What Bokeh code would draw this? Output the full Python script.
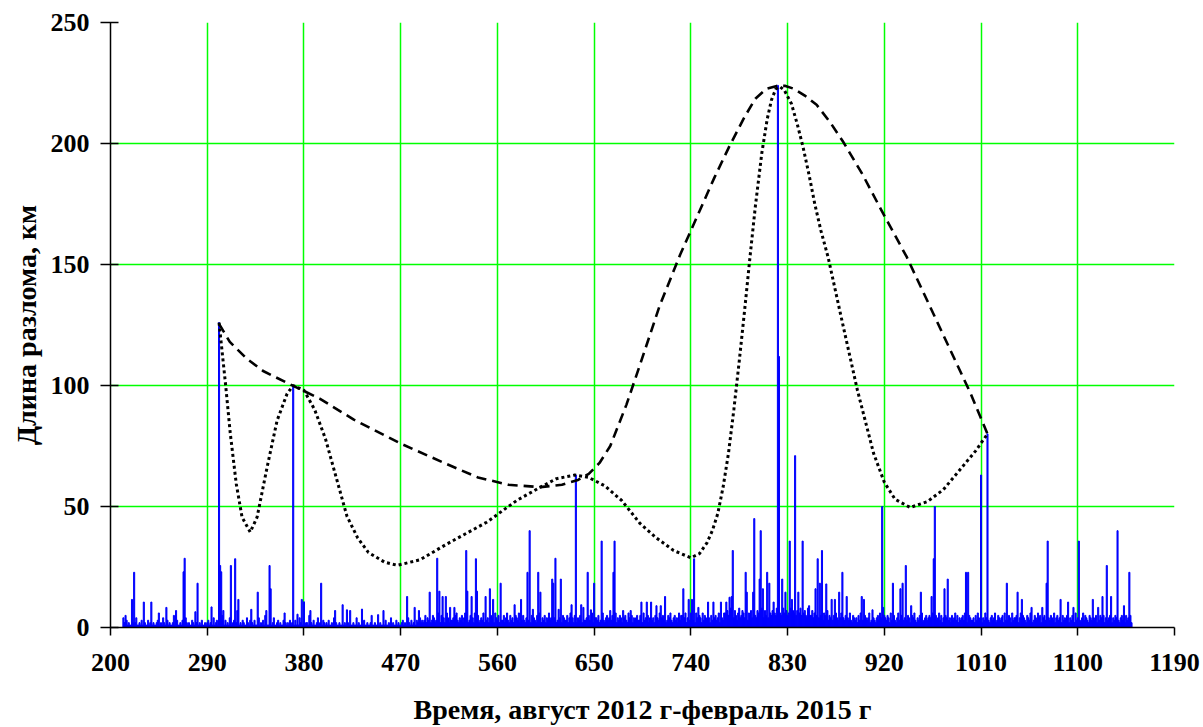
from bokeh.plotting import figure
from bokeh.models import FixedTicker, Range1d
from bokeh.embed import file_html
from bokeh.resources import INLINE

# ---- data ----
START_DAY = 212

BASE_A = [4,2,1,3,1,2,1,1,3,2,1,2,4,1,1,2,1,3,1,2,2,1,1,3,1,2,5,1,2,1,1,2,3,1,1,2,1,4,2,1,
          1,3,1,2,1,1,2,5,1,2,3,1,1,2,1,3,1,1,4,2,1,2,1,1,3,2,1,1,2,6,1,2,1,3,1,1,2,1,2,3,
          1,2,1,1,4,1,2,3,1,2,1,1,5,2,1,3,1,2,1,4,1,1,2,3,1,2,7,3,1,2,1,3,2,1,1,4,2,1,3,1,
          2,1,3,1,1,2,4,1,2,1,3,1,5,2,1,1,3,2,1,2,4,1,1,2,3,1,2,1,1,3,6,2,1,2,1,3,1,2,1,1,
          3,1,2,1,4,2,1,1,3,1,2,2,1,5,1,2,1,3,1,1,2,4,1,2,1,1,3,2,1,2,1,3,1,1,2,1,4,1,2,1]
BASE_B = [1,2,1,1,3,1,2,1,1,2,1,3,1,1,2,1,1,4,1,2,1,1,2,1,3,1,1,2,1,1,2,3,1,1,2,1,1,3,1,2,
          1,1,2,1,3,1,1,2,1,4,1,2,1,1,3,1,2,1,1,2,3,1,2,1,1,4,2,1,3,1,2,2,1,3,2,1,4,2,3,2]
BASE_C = [3,5,2,4,3,6,2,3,5,4,2,3,4,6,3,2,5,3,4,2,3,6,4,2,5,3,3,4,2,5,6,3,2,4,3,5,2,4,6,3,
          4,2,3,5,3,4,2,6,3,4,5,2,3,4,3,6,2,5,3,4,2,3,5,4,3,2,6,4,3,5,2,4,3,3,5,2,4,6,3,2,
          5,3,4,2,3,5,4,3,6,2,4,3,5,3,2,4,6,3,4,2,5,3,4,3,2,5,4,6,3,2,4,3,5,2,4,3,6,3,4,2,
          3,4,5,2,3,6,4,3,2,5,4,3,3,5,2,4,6,3,4,2,5,3,2,4,3,5,4,2,6,3,3,4,2,5,3,4,6,2,3,4,
          4,3,5,2,3,4,6,3,2,4,5,3,4,2,3,5,4,3,6,2,4,3,5,4,2,3,4,5,3,2,6,4,3,5,2,4,3,4,5,3,
          3,5,4,2,6,3,4,3,5,2,4,6,3,4,2,5,3,4,3,6,2,4,5,3,4,2,3,5,4,6,3,2,4,5,3,4,2,6,3,5,
          5,3,4,6,2,4,5,3,6,4,3,5,2,6,4,3,5,4,2,6,3,5,4,3,6,4,2,5,3,6,4,5,3,4,6,2,5,4,3,6]
BASE_D = [6,4,7,5,3,8,5,6,4,7,5,3,6,8,4,5,7,6,4,5,8,3,6,5,7,4,6,8,5,4,7,6,3,5,8,6,4,7,5,6,
          4,8,6,5,7,3,6,5,8,4,7,6,5,4,8,6,3,7,5,6,4,8,5,7,6,4,5,7,3,6,8,5,4,6,7,5,4,8,6,5,
          5,7,4,6,3,5,7,4,6,5,4,3,6,5,4,7,3,5,4,6,3,5,4,6,4,3,5,4,6,3]
BASE_E = [4,3,5,2,4,3,6,3,2,5,4,3,4,2,5,3,6,4,3,2,5,4,3,4,6,2,3,5,4,3,2,4,5,3,6,4,2,3,5,4,
          3,5,4,2,6,3,4,5,3,2,4,6,3,4,5,2,3,4,6,3,5,4,2,3,5,4,6,3,2,4,3,5,4,6,2,3,4,5,3,4,
          5,4,3,6,4,2,5,3,4,6,3,5,2,4,3,5,4,6,3,4,2,5,3,4,6,3,5,2,4,3,4,5,3,6,4,2,3,5,4,3,
          3,4,2,5,3,6,4,3,5,2,4,3,6,4,5,3,2,4,5,3,4,6,2,3,5,4,3,4,5,2,6,3,4,3,5,4,2,6,3,4,
          4,5,3,2,4,6,3,5,4,3,2,5,4,3,6,4,2,3,5,4,3,6,4,5,2,3,4,5,3,6,2,4,3,5,4,3,6,2,4,5,
          3,4,6,2,5,3,4,3,5,6,2,4,3,5,4,2,6,3,4,5,3,2,4,6,3,5,4,3,2,5,4,3,6,4,3,5,2,4,3,5,
          4,3,5,2,4,6,3,4,5,3,2,4,3,5,4,6,3,2,4,5,3,4,2,5,3,4,3,5,2]

SPIKE_X = [214,220,222,231,238,245,252,261,268,269,279,281,294,301,302,303,305,312,316,319,
           331,337,345,348,349,370,374,378,380,386,396,409,416,420,423,434,443,449,454,476,
           483,487,497,504,506,509,512,516,520,531,532,536,540,541,549,553,556,563,576,582,
           588,590,593,598,600,611,612,614,617,619,629,633,638,640,644,647,650,657,665,668,
           669,677,684,694,699,703,708,712,716,733,738,741,743,747,756,761,768,773,776,778,
           779,791,792,798,799,804,805,807,811,813,817,821,822,825,828,832,834,837,840,844,
           850,856,858,860,862,866,871,874,878,881,885,899,901,909,918,919,928,935,937,940,
           945,954,964,966,967,976,979,996,998,1010,1016,1034,1044,1048,1057,1067,1071,1072,
           1084,1091,1096,1101,1114,1119,1123,1127,1131,1137,1143,1148]
SPIKE_Y = [5,11.6,22.8,10.5,10.5,6,8.3,7,23,28.6,6.5,18.3,8.5,126,25.6,23,7,25.6,28.4,11.6,
           7.5,14.6,7,25.6,16,100,5.5,11.6,10.6,7,18.3,7,9.4,7.3,7,7.6,5,5.3,7,12.8,
           8.3,7,14.6,28.6,15,12.8,12.8,8.3,8.3,31.8,15,12.8,28.4,15,12.8,16,11.6,18.3,9.4,11.6,
           22.8,40,7.5,22.8,14.6,20,18.3,28.6,7.5,20,9.4,63,9.4,8.3,22.8,7.3,18.3,35.7,7,22.8,
           35.7,7,7,10.5,10.5,10.5,9,9,12.8,16,11.6,11.6,28.4,8.3,10.5,10.5,10.5,10.5,12.5,12.8,
           31.8,22.8,14.6,14.6,45,20,40,16,22.8,18.3,10.5,224,112,20,14.6,35.7,11.6,71,14.6,35.7,
           9,16,28.4,18.3,31.8,18,11.6,11.6,14.6,22.8,12.8,12.8,11.6,7.3,50,8.3,18.3,16,18.3,25.6,
           9,14.6,12.8,28.4,50,16,20,22.8,22.8,63,80,18.3,14.6,11.6,8.3,8.3,18.3,35.7,
           11.6,10.5,8.3,35.7,11.6,8.3,12.8,25.6,12.8,40,9,22.8]

# envelope through the main maxima (dashed)
DASH_X = [301,311,327,342,367,395,426,470,513,542,570,600,620,635,645,655,665,680,693,711,
          730,748,762,776,790,800,810,820,828,836,846,857,870,882,900,919,941,960,980,1000,1016]
DASH_Y = [125.5,118,111,106,100.5,94.5,86,76,67.5,62,59,58,59,61,63.5,68,75,92,109,133,
          154,172,186,199,211,218.5,222.5,223.8,223.8,222.6,219.8,216,208.5,200.5,187,171,153,135,116,97,80]

# curve through maxima and minima (dotted)
DOT_X = [301,307,311.5,317,322.4,330,336.4,345.7,355,364.3,370,380,390,400,410,420,430,440,455,467,
         488,513,550,578,600,615,632,645,660,675.6,692.7,708,724,740,748,755,760,765,770,775,
         780,785,790,795,800,806,811,815,819,822.8,827,833.6,839,844.4,850,855.3,861,867.7,880,895,
         910,920,930,944,960,975,990,1005,1016]
DOT_Y = [126,100.7,80,59.4,45.6,39.4,45.6,66.2,85.5,96.6,100,98,90,78,62,46,37,31,27,25.7,
         28,34.5,43.5,52.5,58,61.5,63,62,58.5,52.5,43,37,31.8,28.8,30.5,35,40,47,58,72,
         90,110,131,153,174,196,210,218,222.5,223.5,222,216.4,208,198.5,187,175,164,153,128,98,
         72,60,53,49.6,52,57,65,73,80]

X_TICKS = [200, 290, 380, 470, 560, 650, 740, 830, 920, 1010, 1100, 1190]
Y_TICKS = [0, 50, 100, 150, 200, 250]
X_LABEL = "Время, август 2012 г-февраль 2015 г"
Y_LABEL = "Длина разлома, км"

# ---- build series ----
base = BASE_A + BASE_B + BASE_C + BASE_D + BASE_E
days = list(range(START_DAY, START_DAY + len(base)))
vals = [float(v) for v in base]
for sx, sy in zip(SPIKE_X, SPIKE_Y):
    i = sx - START_DAY
    if 0 <= i < len(vals):
        vals[i] = max(vals[i], sy)

p = figure(width=1200, height=727, x_range=Range1d(200, 1190), y_range=Range1d(0, 250),
           output_backend="svg", toolbar_location=None,
           min_border_left=110, min_border_right=26, min_border_top=22, min_border_bottom=100)
p.outline_line_color = None
p.background_fill_color = "white"
p.border_fill_color = "white"

p.vbar(x=days, top=vals, width=1.0, fill_color="#0000ff", line_color="#0000ff", line_width=1)
p.line(DASH_X, DASH_Y, line_color="black", line_width=2.6, line_dash="10 6")
p.line(DOT_X, DOT_Y, line_color="black", line_width=3, line_dash="3 3")

p.xaxis.ticker = FixedTicker(ticks=X_TICKS)
p.yaxis.ticker = FixedTicker(ticks=Y_TICKS)
p.xgrid.ticker = FixedTicker(ticks=X_TICKS[1:])
p.ygrid.ticker = FixedTicker(ticks=Y_TICKS[1:])
for g in (p.xgrid, p.ygrid):
    g.grid_line_color = "#00ff00"
    g.grid_line_width = 1.5

for ax in (p.xaxis, p.yaxis):
    ax.axis_line_color = "black"
    ax.axis_line_width = 1.5
    ax.major_tick_line_color = "black"
    ax.major_tick_line_width = 1.5
    ax.minor_tick_line_color = None
    ax.major_label_text_font = "Liberation Serif"
    ax.major_label_text_font_style = "bold"
    ax.major_label_text_font_size = "26px"
    ax.major_label_text_color = "black"
    ax.axis_label_text_font = "Liberation Serif"
    ax.axis_label_text_font_style = "bold"
    ax.axis_label_text_color = "black"

p.xaxis.major_tick_out = 8
p.xaxis.major_tick_in = 0
p.xaxis.major_label_standoff = 18
p.xaxis.axis_label = X_LABEL
p.xaxis.axis_label_text_font_size = "28px"
p.xaxis.axis_label_standoff = 20

p.yaxis.major_tick_out = 10
p.yaxis.major_tick_in = 8
p.yaxis.major_label_standoff = 11
p.yaxis.axis_label = Y_LABEL
p.yaxis.axis_label_text_font_size = "28px"
p.yaxis.axis_label_standoff = 6

open("out.html", "w").write(file_html(p, INLINE))
